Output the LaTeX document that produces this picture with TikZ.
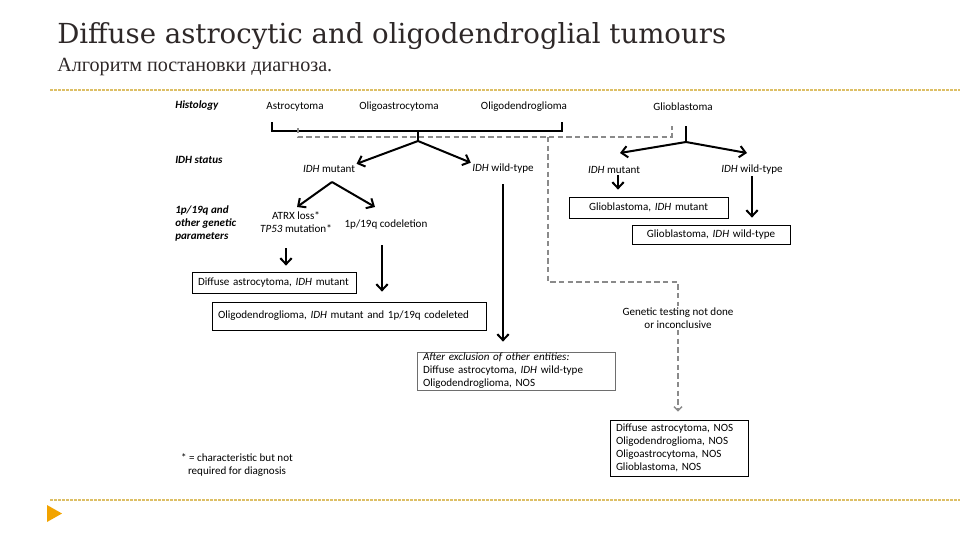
\documentclass[tikz,border=0pt]{standalone}
\usepackage{fontspec}
\setmainfont{Carlito}
\newfontfamily\titlefont{DejaVu Serif}
\newfontfamily\subtitlefont{Liberation Serif}
\usetikzlibrary{positioning, arrows.meta}
\definecolor{titleink}{HTML}{2E2828}
\definecolor{ruleline}{HTML}{DDBF66}
\definecolor{bulletorange}{HTML}{F2A300}
\definecolor{testgrey}{HTML}{8A8A8A}
\definecolor{exclgrey}{HTML}{6E6E6E}
\tikzset{
  headline/.style={font=\titlefont\fontsize{20.7}{24}\selectfont, text=titleink, inner sep=0pt},
  subline/.style={font=\subtitlefont\fontsize{15.1}{18}\selectfont, text=titleink, inner sep=0pt},
  rulerline/.style={draw=ruleline, line width=0.8pt, dash pattern=on 2pt off 1pt},
  levellabel/.style={anchor=west, align=left, inner sep=0pt,
    font=\fontsize{8.3}{9.75}\selectfont\bfseries\itshape},
  branchtext/.style={align=center, inner sep=1pt, font=\fontsize{8.3}{9.75}\selectfont},
  outcomebox/.style={draw=black, line width=0.6pt, align=left, inner xsep=4.5pt,
    inner ysep=0pt, font=\fontsize{8.3}{9.75}\selectfont},
  flowline/.style={line width=1.5pt},
  flowarrow/.style={-{Straight Barb[length=4.5pt, width=8.5pt]}, line width=1.5pt},
  testdash/.style={draw=testgrey, line width=1.1pt, dash pattern=on 4pt off 2.5pt},
  testarrow/.style={testdash, -{Straight Barb[length=3pt, width=6pt]}}
}
\begin{document}
\begin{tikzpicture}[x=0.75pt, y=-0.75pt]
\useasboundingbox (0,0) rectangle (960,540);

% slide heading
\node[headline, anchor=base west] (title) at (57,43) {Diffuse astrocytic and oligodendroglial tumours};
\node[subline, anchor=base west] (subtitle) at (57,71) {Алгоритм постановки диагноза.};
\draw[rulerline] (50,90) -- (960,90);
\draw[rulerline] (50,500) -- (960,500);
\fill[bulletorange] (47,505) -- (47,522) -- (62,513.5) -- cycle;

% row labels
\node[levellabel] (histrow) at (175,106) {Histology};
\node[levellabel] (idhrow) at (175,160) {IDH status};
\node[levellabel] (generow) at (175,223) {1p/19q and\\other genetic\\parameters};

% histology
\node[branchtext] (astro) at (295,107) {Astrocytoma};
\node[branchtext] (oligoastro) at (399,107) {Oligoastrocytoma};
\node[branchtext] (oligo) at (524,107) {Oligodendroglioma};
\node[branchtext] (gbm) at (683,107) {Glioblastoma};

% IDH status
\node[branchtext] (idhmut) at (329,169) {\textit{IDH} mutant};
\node[branchtext] (idhwt) at (503,169) {\textit{IDH} wild-type};
\node[branchtext] (gbmmut) at (614,170) {\textit{IDH} mutant};
\node[branchtext] (gbmwt) at (752,170) {\textit{IDH} wild-type};

% genetic parameters
\node[branchtext] (atrx) at (296,222) {ATRX loss*\\\textit{TP53} mutation*};
\node[branchtext] (codel) at (386,225) {1p/19q codeletion};
\node[branchtext] (gentest) at (678,318) {Genetic testing not done\\or inconclusive};

% outcomes
\node[outcomebox, minimum width=123pt, minimum height=15.75pt, text width=114pt] (dastro) at (274,282.5)
  {Diffuse astrocytoma, \textit{IDH} mutant};
\node[outcomebox, minimum width=205.5pt, minimum height=21pt, text width=196.5pt] (oligobox) at (349,316)
  {Oligodendroglioma, \textit{IDH} mutant and 1p/19q codeleted};
\node[outcomebox, draw=exclgrey, minimum width=148.5pt, minimum height=28.5pt, text width=139.5pt] (excl) at (516,371)
  {\textit{After exclusion of other entities:}\\Diffuse astrocytoma, \textit{IDH} wild-type\\Oligodendroglioma, NOS};
\node[outcomebox, align=center, minimum width=119.25pt, minimum height=15.75pt, text width=110pt] (gbmmutbox) at (648.5,207.5)
  {Glioblastoma, \textit{IDH} mutant};
\node[outcomebox, align=center, minimum width=118.5pt, minimum height=14.25pt, text width=109.5pt] (gbmwtbox) at (711,234.5)
  {Glioblastoma, \textit{IDH} wild-type};
\node[outcomebox, minimum width=103.5pt, minimum height=42pt, text width=94.5pt] (nosbox) at (679,448)
  {Diffuse astrocytoma, NOS\\Oligodendroglioma, NOS\\Oligoastrocytoma, NOS\\Glioblastoma, NOS};

\node[branchtext] (note) at (237,465) {* = characteristic but not\\required for diagnosis};

% bracket and forks
\coordinate (bracketL) at (272,122);
\coordinate (bracketR) at (562,122);
\coordinate (forkA) at (418,131);
\coordinate (forkB) at (418,141);
\coordinate (mutfork) at (332,182);
\coordinate (atrxtip) at (297,207);
\coordinate (codeltip) at (375,207);
\coordinate (gbmstem) at (686,126);
\coordinate (gbmfork) at (686,142);
\coordinate (gbmmuttip) at (620,153);
\coordinate (gbmwttip) at (747,153);

\draw[flowline] (bracketL) |- (forkA) -| (bracketR);
\draw[flowline] (forkA) -- (forkB);
\draw[flowarrow] (forkB) -- (idhmut.north east);
\draw[flowarrow] (forkB) -- (idhwt.north west);
\draw[flowarrow] (mutfork) -- (atrxtip);
\draw[flowarrow] (mutfork) -- (codeltip);
\draw[flowline] (gbmstem) -- (gbmfork);
\draw[flowarrow] (gbmfork) -- (gbmmuttip);
\draw[flowarrow] (gbmfork) -- (gbmwttip);

% down to the diagnoses
\draw[flowarrow, shorten <=10.5pt, shorten >=4.5pt] ([xshift=-7.5pt]atrx.south) -- ([xshift=-7.5pt]atrx.south |- dastro.north);
\draw[flowarrow, shorten <=10.5pt, shorten >=7.5pt] ([xshift=-3pt]codel.south) -- ([xshift=-3pt]codel.south |- oligobox.north);
\draw[flowarrow, shorten <=6.75pt, shorten >=7.5pt] (idhwt.south) -- (idhwt.south |- excl.north);
\draw[flowarrow, shorten >=5.25pt] ([xshift=3pt]gbmmut.south) -- ([xshift=3pt]gbmmut.south |- gbmmutbox.north);
\draw[flowarrow, shorten >=5.25pt] (gbmwt.south) -- (gbmwt.south |- gbmwtbox.north);

% not tested
\coordinate (dashtick) at (298,128);
\coordinate (dashcorner) at (298,137);
\coordinate (dashend) at (672,126);
\coordinate (dashsplit) at (548,137);
\coordinate (dashturn) at (548,282);
\draw[testdash] (dashtick) -- (dashcorner) -| (dashend);
\draw[testdash] (dashsplit) -- (dashturn) -| (gentest.north);
\draw[testarrow, shorten >=6pt] (gentest.south) -- (gentest.south |- nosbox.north);
\end{tikzpicture}
\end{document}
